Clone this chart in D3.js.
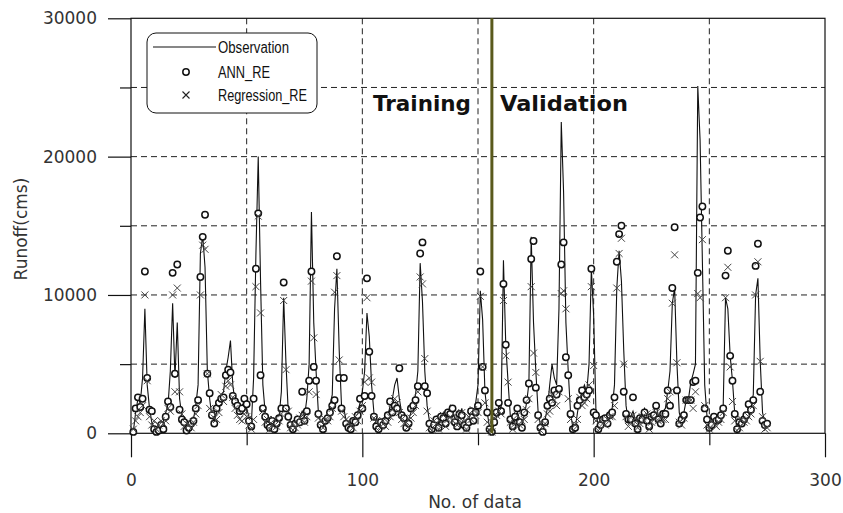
<!DOCTYPE html>
<html>
<head>
<meta charset="utf-8">
<script src="https://cdn.jsdelivr.net/npm/d3@7"></script>
<style>
  body { margin: 0; background: #fff; }
  svg { display: block; }
</style>
</head>
<body>
<div id="vis"></div>
<script>
// observed runoff (cms), data no. 1..275
const obs = [
  100, 1500, 2500, 2200, 4000, 9000, 3500, 1800, 800, 400,
  200, 300, 500, 900, 1500, 2000, 4500, 9400, 4000, 8000,
  2500, 1200, 600, 400, 700, 500, 1000, 2000, 3500, 13000,
  14300, 12000, 4500, 2500, 1200, 900, 1500, 2500, 2800, 3000,
  4500, 5500, 6700, 3500, 2200, 1800, 1500, 2000, 2300, 1800,
  1200, 600, 4000, 13000, 20000, 11000, 3500, 1500, 800, 500,
  700, 600, 800, 1200, 3000, 9800, 5000, 1500, 800, 400,
  600, 900, 1200, 1600, 1200, 2500, 5000, 16000, 8000, 4500,
  1500, 800, 500, 700, 1300, 2000, 2800, 9000, 11900, 6000,
  2000, 1800, 900, 600, 400, 700, 1000, 1500, 2200, 3000,
  4500, 8700, 7000, 3500, 1500, 600, 400, 700, 1000, 800,
  1200, 2000, 2500, 3500, 4000, 2500, 1500, 900, 600, 1000,
  1500, 2200, 2800, 4500, 12300, 9500, 4500, 2000, 900, 500,
  800, 1200, 600, 1000, 1500, 900, 1300, 2000, 1500, 1100,
  700, 1200, 1800, 900, 500, 1000, 1500, 1300, 2200, 3500,
  10300, 8200, 3000, 1500, 400, 200, 600, 1200, 2000, 1800,
  12500, 6400, 3700, 1200, 600, 900, 1500, 1000, 700, 1300,
  2200, 3600, 14200, 8000, 4500, 1500, 600, 300, 1000, 1800,
  3500, 5000, 4000, 3500, 9000, 22500, 17400, 8000, 4500, 1500,
  400, 300, 1500, 2500, 3000, 3500, 3000, 5000, 11900, 8500,
  1500, 500, 800, 1200, 900, 1200, 1500, 1800, 3500, 10500,
  13200, 11000, 6000, 2000, 800, 1200, 1600, 1000, 600, 900,
  1400, 1800, 1200, 700, 1000, 1500, 2000, 1300, 900, 1600,
  1800, 3000, 4500, 9400, 10500, 5000, 1500, 800, 1500, 2400,
  2500, 3700, 4300, 5000, 25100, 21200, 12400, 3500, 1200, 600,
  800, 1000, 700, 1200, 1500, 2000, 9800, 9000, 5600, 3800,
  1400, 500, 600, 900, 1200, 1000, 1500, 2000, 2800, 10000,
  11200, 5200, 1500, 800, 500
];

// ANN_RE estimates
const ann = [
  100, 1800, 2600, 1900, 2500, 11700, 4000, 1700, 1600, 300,
  100, 200, 600, 300, 1200, 2300, 1900, 11600, 4300, 12200,
  1700, 1000, 800, 200, 400, 700, 900, 1800, 2400, 11300,
  14200, 15800, 4300, 2900, 1300, 700, 1800, 2200, 2500, 2600,
  4200, 4600, 4400, 2700, 2300, 2000, 1600, 1800, 2500, 2100,
  900, 500, 2500, 11900, 15900, 4200, 1800, 1200, 600, 400,
  900, 300, 700, 1100, 1800, 10900, 1800, 1200, 600, 300,
  700, 1000, 800, 3000, 900, 1600, 3800, 11700, 4800, 3800,
  1400, 600, 300, 900, 1100, 1500, 2000, 2400, 12800, 4000,
  1800, 4000, 700, 400, 300, 900, 800, 1300, 2500, 1800,
  2700, 11200, 5900, 2700, 1200, 500, 300, 800, 600, 900,
  1300, 2300, 1500, 2000, 1800, 4700, 1300, 1100, 400, 700,
  1800, 2000, 2400, 3400, 13000, 13800, 3400, 2900, 700, 300,
  600, 1000, 400, 1200, 1100, 700, 1500, 1400, 1800, 800,
  500, 1400, 1300, 600, 400, 800, 1600, 900, 1500, 2000,
  11700, 4800, 3100, 1500, 300, 100, 800, 1500, 2200, 1600,
  10800, 6400, 2200, 1000, 500, 1200, 1800, 800, 400, 1500,
  2400, 3600, 12600, 13900, 3300, 1300, 400, 100, 800, 2000,
  2500, 2200, 3100, 2800, 3200, 12200, 13800, 5500, 4200, 1400,
  300, 400, 2000, 2400, 3100, 2600, 2800, 3100, 11900, 1500,
  1300, 300, 600, 1000, 1100, 700, 1300, 1500, 2600, 12400,
  14400, 15000, 3000, 1400, 1000, 1000, 2600, 700, 300, 1100,
  1000, 1500, 900, 500, 1200, 1300, 2000, 1000, 700, 1400,
  1400, 3100, 2000, 10500, 14900, 3100, 700, 1000, 1300, 2400,
  2400, 2400, 3700, 3800, 11600, 15600, 16400, 1800, 1000, 400,
  600, 1200, 900, 1000, 1300, 1800, 11400, 13200, 5600, 3800,
  1400, 300, 800, 700, 1000, 1300, 2100, 1700, 2400, 12100,
  13700, 3000, 900, 600, 700
];

// Regression_RE estimates
const reg = [
  300, 900, 1200, 1500, 2000, 10000, 3800, 1200, 600, 900,
  300, 600, 900, 700, 900, 1800, 1600, 10000, 3000, 10500,
  3000, 1400, 500, 700, 600, 400, 800, 1400, 2000, 10000,
  13600, 13300, 4300, 1800, 1600, 1100, 1000, 1500, 2800, 2300,
  3400, 3800, 3500, 2600, 1800, 1300, 1000, 900, 1400, 1200,
  600, 300, 1000, 10600, 15700, 8700, 1600, 800, 1000, 300,
  600, 1000, 500, 900, 1400, 9600, 4600, 1600, 400, 700,
  400, 600, 1100, 1300, 800, 1200, 3000, 11000, 6900, 2800,
  1100, 900, 400, 1000, 900, 1200, 1800, 10200, 11400, 5300,
  1600, 1200, 1000, 800, 500, 400, 1200, 900, 1600, 2000,
  3700, 9800, 4000, 3700, 1100, 900, 200, 500, 900, 500,
  800, 1200, 1700, 2500, 2200, 1500, 1000, 700, 800, 500,
  1100, 1500, 2000, 3000, 11300, 10800, 5400, 1600, 400, 200,
  900, 700, 300, 800, 1300, 500, 1000, 1200, 900, 1300,
  600, 900, 1500, 800, 300, 1200, 1000, 1700, 1300, 1500,
  9900, 4800, 2200, 800, 200, 100, 1100, 1300, 1600, 1400,
  9600, 5600, 3700, 800, 300, 700, 1300, 600, 900, 1000,
  1700, 2500, 10600, 5800, 4400, 1000, 200, 500, 700, 1400,
  1600, 2800, 2400, 2000, 3000, 10100, 10300, 9000, 2500, 1000,
  200, 600, 1000, 2600, 2000, 2200, 2500, 3500, 10600, 4900,
  900, 200, 900, 700, 600, 1000, 1200, 1200, 2000, 10500,
  13000, 14100, 5000, 1200, 500, 800, 1300, 800, 400, 700,
  1200, 900, 1400, 300, 800, 1100, 1500, 900, 1200, 1000,
  1000, 2500, 3000, 9400, 12900, 5100, 800, 600, 1100, 2400,
  2400, 2400, 1800, 3000, 10100, 9800, 14000, 2000, 600, 300,
  900, 700, 500, 800, 1000, 1500, 9800, 12000, 4800, 2300,
  900, 200, 400, 1000, 800, 900, 1200, 1400, 2000, 10000,
  12400, 5200, 1200, 300, 400
];

const xTicks = [0, 100, 200, 300];
const xMinor = [50, 150, 250];
const yTicks = [0, 10000, 20000, 30000];
const yMinor = [5000, 15000, 25000];
const splitAt = 156; // training / validation boundary
const legendLabels = ["Observation", "ANN_RE", "Regression_RE"];

const WIDTH = 843;
const HEIGHT = 513;
const FONT = "DejaVu Sans, sans-serif";

const xScale = d3.scaleLinear().domain([0, 300]).range([131, 825]);
const yScale = d3.scaleLinear().domain([0, 30000]).range([433.3, 18.3]);

const data = obs.map((d, i) => ({ n: i + 1, obs: d, ann: ann[i], reg: reg[i] }));

const svg = d3
  .select("#vis")
  .append("svg")
  .attr("width", WIDTH)
  .attr("height", HEIGHT);

svg.append("rect").attr("width", WIDTH).attr("height", HEIGHT).attr("fill", "#fff");

// dashed grid
const grid = svg.append("g").attr("stroke", "#222").attr("stroke-width", 1).attr("stroke-dasharray", "6,4");
grid
  .selectAll("line.h")
  .data([5000, 10000, 15000, 20000, 25000])
  .enter()
  .append("line")
  .attr("x1", xScale(0))
  .attr("x2", xScale(300))
  .attr("y1", (d) => yScale(d))
  .attr("y2", (d) => yScale(d));
grid
  .selectAll("line.v")
  .data([50, 100, 150, 200, 250])
  .enter()
  .append("line")
  .attr("y1", yScale(30000))
  .attr("y2", yScale(0))
  .attr("x1", (d) => xScale(d))
  .attr("x2", (d) => xScale(d));

// axes
function styleAxis(g) {
  g.select(".domain").remove();
  g.selectAll(".tick line").attr("stroke", "#111").attr("stroke-width", 1.2);
  g.selectAll(".tick text")
    .attr("fill", "#333")
    .style("font-family", FONT)
    .style("font-size", "17px");
}

svg
  .append("g")
  .attr("transform", `translate(0,${yScale(0)})`)
  .call(d3.axisBottom(xScale).tickValues(xTicks).tickSize(24).tickPadding(17).tickFormat(d3.format("d")))
  .call(styleAxis);
svg
  .append("g")
  .attr("transform", `translate(0,${yScale(0)})`)
  .call(d3.axisBottom(xScale).tickValues(xMinor).tickSize(12).tickFormat(""))
  .call(styleAxis);
svg
  .append("g")
  .attr("transform", `translate(${xScale(0)},0)`)
  .call(d3.axisLeft(yScale).tickValues(yTicks).tickSize(23).tickPadding(11).tickFormat(d3.format("d")))
  .call(styleAxis);
svg
  .append("g")
  .attr("transform", `translate(${xScale(0)},0)`)
  .call(d3.axisLeft(yScale).tickValues(yMinor).tickSize(11).tickFormat(""))
  .call(styleAxis);

// frame
svg
  .append("rect")
  .attr("x", xScale(0))
  .attr("y", yScale(30000))
  .attr("width", xScale(300) - xScale(0))
  .attr("height", yScale(0) - yScale(30000))
  .attr("fill", "none")
  .attr("stroke", "#111")
  .attr("stroke-width", 1.2);

// observation line
svg
  .append("path")
  .datum(data)
  .attr("fill", "none")
  .attr("stroke", "#111")
  .attr("stroke-width", 1.1)
  .attr("d", d3.line().x((d) => xScale(d.n)).y((d) => yScale(d.obs)));

// ANN circles
svg
  .append("g")
  .selectAll("circle")
  .data(data)
  .enter()
  .append("circle")
  .attr("cx", (d) => xScale(d.n))
  .attr("cy", (d) => yScale(d.ann))
  .attr("r", 3.2)
  .attr("fill", "#fff")
  .attr("stroke", "#111")
  .attr("stroke-width", 1.5);

// regression crosses
const cross = "M-3.5,-3.5L3.5,3.5M-3.5,3.5L3.5,-3.5";
svg
  .append("g")
  .selectAll("path")
  .data(data)
  .enter()
  .append("path")
  .attr("transform", (d) => `translate(${xScale(d.n)},${yScale(d.reg)})`)
  .attr("d", cross)
  .attr("fill", "none")
  .attr("stroke", "#444")
  .attr("stroke-width", 1);

// training / validation split
svg
  .append("line")
  .attr("x1", xScale(splitAt))
  .attr("x2", xScale(splitAt))
  .attr("y1", yScale(30000))
  .attr("y2", yScale(0))
  .attr("stroke", "#5a5a1c")
  .attr("stroke-width", 3);

svg
  .append("text")
  .attr("x", 373)
  .attr("y", 111)
  .attr("textLength", 98)
  .attr("lengthAdjust", "spacingAndGlyphs")
  .style("font-family", FONT)
  .style("font-size", "21.5px")
  .style("font-weight", "bold")
  .attr("fill", "#111")
  .text("Training");
svg
  .append("text")
  .attr("x", 500)
  .attr("y", 111)
  .attr("textLength", 128)
  .attr("lengthAdjust", "spacingAndGlyphs")
  .style("font-family", FONT)
  .style("font-size", "21.5px")
  .style("font-weight", "bold")
  .attr("fill", "#111")
  .text("Validation");

// legend
const legend = svg.append("g");
legend
  .append("rect")
  .attr("x", 147)
  .attr("y", 33)
  .attr("width", 170)
  .attr("height", 80)
  .attr("rx", 9)
  .attr("fill", "#fff")
  .attr("stroke", "#111")
  .attr("stroke-width", 1);
legend.append("line").attr("x1", 153).attr("x2", 216).attr("y1", 47).attr("y2", 47).attr("stroke", "#111").attr("stroke-width", 1.1);
legend.append("circle").attr("cx", 186).attr("cy", 72).attr("r", 3.2).attr("fill", "#fff").attr("stroke", "#111").attr("stroke-width", 1.5);
legend.append("path").attr("transform", "translate(186,95)").attr("d", cross).attr("stroke", "#222").attr("stroke-width", 1.1);
const legendY = [47, 72, 95];
const legendW = [71, 52, 89];
legend
  .selectAll("text")
  .data(legendLabels)
  .enter()
  .append("text")
  .attr("x", 218)
  .attr("y", (d, i) => legendY[i] + 6)
  .attr("textLength", (d, i) => legendW[i])
  .attr("lengthAdjust", "spacingAndGlyphs")
  .style("font-family", "Liberation Sans, Arial, sans-serif")
  .style("font-size", "16px")
  .attr("fill", "#111")
  .text((d) => d);

// axis titles
svg
  .append("text")
  .attr("x", 475)
  .attr("y", 508)
  .attr("text-anchor", "middle")
  .style("font-family", FONT)
  .style("font-size", "17px")
  .attr("fill", "#333")
  .text("No. of data");
svg
  .append("text")
  .attr("transform", "translate(27,229) rotate(-90)")
  .attr("text-anchor", "middle")
  .style("font-family", FONT)
  .style("font-size", "17px")
  .attr("fill", "#333")
  .text("Runoff(cms)");
</script>
</body>
</html>
